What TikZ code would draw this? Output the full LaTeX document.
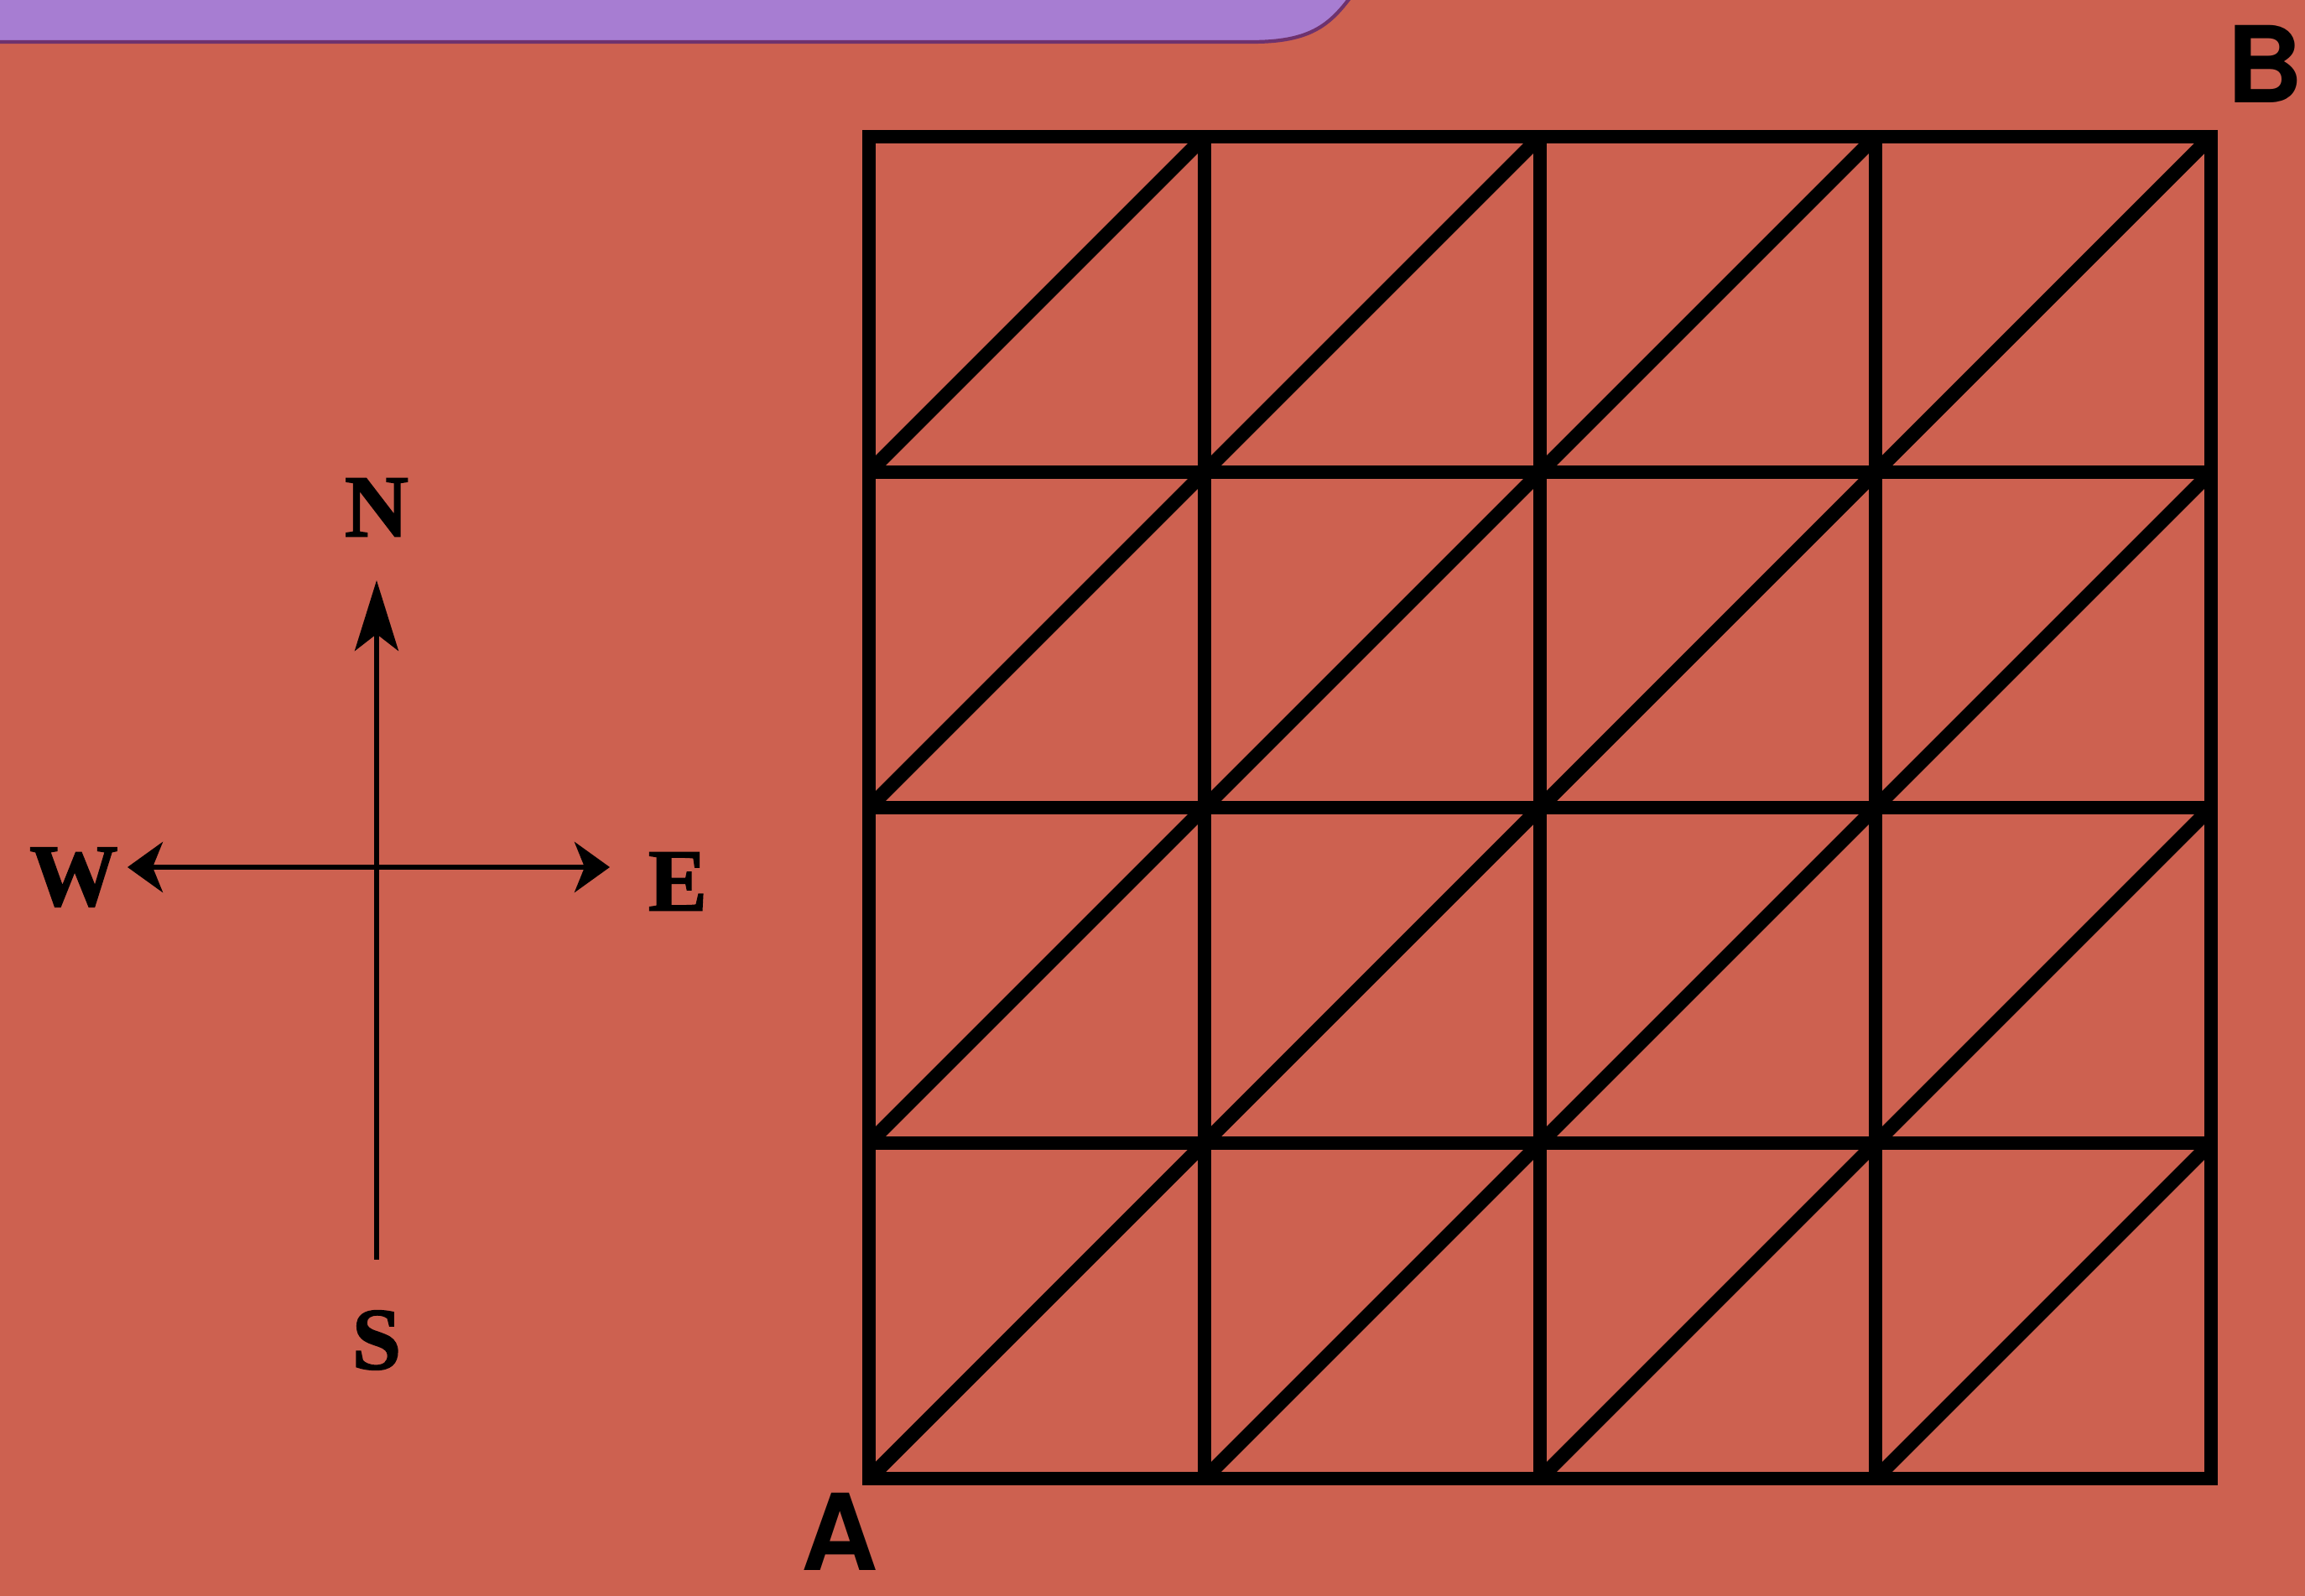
\documentclass[tikz,border=0pt]{standalone}
\usepackage{fontspec}
\newfontfamily\cornerfont{TeX Gyre Heros}
\newfontfamily\pointfont{Liberation Serif}[BoldFeatures={FakeBold=1.5}]
\usetikzlibrary{arrows.meta}
\definecolor{brick}{RGB}{205,97,80}
\definecolor{lilac}{RGB}{167,125,210}
\definecolor{plum}{RGB}{110,50,110}

\begin{document}
\begin{tikzpicture}
   \def\s{4}
   \tikzset{
     compass/.style={font=\fontsize{30}{32}\selectfont\pointfont\bfseries},
     corner/.style={font=\fontsize{36}{38}\selectfont\cornerfont\bfseries,anchor=base,inner sep=0pt},
     thick line/.style={line width=4.8pt},
     needle/.style={line width=1.7pt}
   }
   \useasboundingbox (-10.36,-1.40) rectangle (17.12,17.63);
   \fill[brick] (-10.36,-1.40) rectangle (17.12,17.63);
   % tab along the top edge
   \fill[lilac] (-10.5,17.8) -- (-10.5,17.13) -- (4.57,17.13)
      .. controls (5.34,17.13) and (5.54,17.38) .. (5.84,17.8) -- cycle;
   \draw[plum,line width=1.2pt] (-10.5,17.13) -- (4.57,17.13)
      .. controls (5.34,17.13) and (5.54,17.38) .. (5.84,17.8);
   % the grid
   \begin{scope}[thick line]
    \draw[step=\s] (0,0) grid (4*\s,4*\s);
    \draw[line join=miter] (0,0) rectangle (4*\s,4*\s);
    \foreach \i in {0,4,8,12} {
      \draw (\i,0) -- (16,16-\i);
      \draw (0,\i) -- (16-\i,16);
    }
   \end{scope}
   \node[corner] (A) at (-0.35,-1.10) {A};
   \node[corner] (B) at (16.64,16.40) {B};
   % compass
   \coordinate (ntip) at (-5.87,10.71);
   \coordinate (sbot) at (-5.87,2.61);
   \coordinate (wtip) at (-8.84,7.29);
   \coordinate (etip) at (-3.09,7.29);
   \draw[needle,-{Stealth[length=0.84cm,width=0.52cm,inset=0.2cm]}] (sbot) -- (ntip);
   \draw[needle,{Stealth[length=0.42cm,width=0.6cm,inset=0.12cm]}-{Stealth[length=0.42cm,width=0.6cm,inset=0.12cm]}] (wtip) -- (etip);
   \node[compass] (N) at (-5.87,11.58) {N};
   \node[compass] (S) at (-5.87,1.65) {S};
   \node[compass] (W) at (-9.48,7.17) {W};
   \node[compass] (E) at (-2.28,7.12) {E};
\end{tikzpicture}
\end{document}
